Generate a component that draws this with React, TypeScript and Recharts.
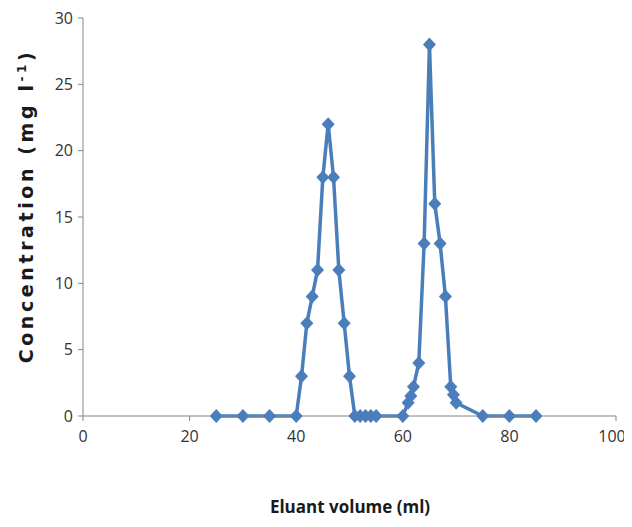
import { LineChart, Line, XAxis, YAxis, Label } from "recharts";

// Eluant volume (ml) and concentration (mg l-1)
const volumes = [25, 30, 35, 40, 41, 42, 43, 44, 45, 46, 47, 48, 49, 50, 51, 52, 53, 54, 55, 60, 61, 61.5, 62, 63, 64, 65, 66, 67, 68, 69, 69.5, 70, 75, 80, 85];
const concentrations = [0, 0, 0, 0, 3, 7, 9, 11, 18, 22, 18, 11, 7, 3, 0, 0, 0, 0, 0, 0, 1, 1.5, 2.2, 4, 13, 28, 16, 13, 9, 2.2, 1.6, 1, 0, 0, 0];

const xTicks = [0, 20, 40, 60, 80, 100];
const yTicks = [0, 5, 10, 15, 20, 25, 30];

const data = volumes.map((v, i) => ({ v, c: concentrations[i] }));

const BLUE = "#4a7ebb";
const AXIS = "#868686";
const tickStyle = { fill: "#333333", fontSize: 16, fontFamily: "'Open Sans', sans-serif" };

function Diamond(props: any) {
  const { cx, cy, index } = props;
  if (cx == null || cy == null) return null;
  return <path key={`d-${index}`} d={`M${cx},${cy - 7}L${cx + 6.5},${cy}L${cx},${cy + 7}L${cx - 6.5},${cy}Z`} fill={BLUE} stroke="none" />;
}

export default function App() {
  return (
    <div style={{ width: 616, height: 510, background: "#fff" }}>
      <style>{`html, body { overflow: hidden; } .recharts-surface { overflow: visible; }`}</style>
      <LineChart width={616} height={510} data={data} margin={{ top: 10, right: 8, left: 30, bottom: 62 }}>
        <XAxis
          type="number"
          dataKey="v"
          domain={[0, 100]}
          ticks={xTicks}
          stroke={AXIS}
          tickSize={5}
          tickMargin={10}
          tick={tickStyle}
          height={40}
        >
          <Label
            content={() => (
              <text x={342} y={505} textAnchor="middle" fontFamily="'Open Sans', sans-serif" fontWeight="bold" fontSize={17} fill="#1a1a1a">
                Eluant volume (ml)
              </text>
            )}
          />
        </XAxis>
        <YAxis
          type="number"
          domain={[0, 30]}
          ticks={yTicks}
          stroke={AXIS}
          tickSize={5}
          tickMargin={5}
          tick={tickStyle}
          width={45}
        >
          <Label
            content={() => (
              <text
                x={0}
                y={0}
                transform="translate(25,198) rotate(-90)"
                textAnchor="middle"
                fontFamily="'DejaVu Sans', sans-serif"
                fontWeight="bold"
                fontSize={19}
                letterSpacing={3.6}
                fill="#1a1a1a"
              >
                Concentration (mg l
                <tspan dy={-7} fontSize={12}>-1</tspan>
                <tspan dy={7}>)</tspan>
              </text>
            )}
          />
        </YAxis>
        <Line
          type="linear"
          dataKey="c"
          stroke={BLUE}
          strokeWidth={3.5}
          dot={<Diamond />}
          activeDot={false}
          isAnimationActive={false}
        />
      </LineChart>
    </div>
  );
}
